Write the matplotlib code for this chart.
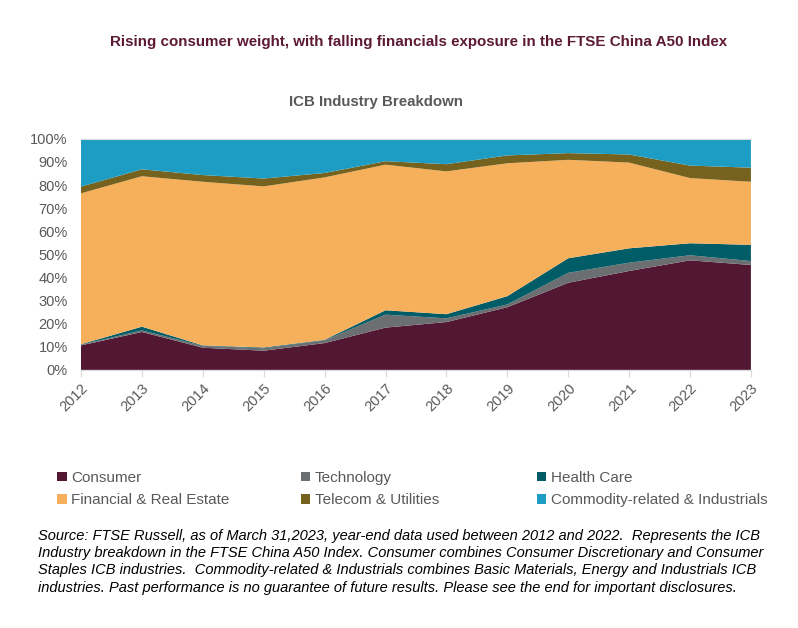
import numpy as np
import matplotlib
matplotlib.use("Agg")
from matplotlib import pyplot as plt
from matplotlib.patches import Patch

plt.rcParams["font.family"] = ["Liberation Sans", "DejaVu Sans"]

years = ["2012", "2013", "2014", "2015", "2016", "2017",
         "2018", "2019", "2020", "2021", "2022", "2023"]
consumer = [10.6, 16.4, 9.6, 8.3, 11.6, 18.3, 20.7, 27.1, 37.7, 42.8, 47.4, 45.4]
technology = [0.3, 0.7, 0.8, 1.1, 1.2, 5.6, 1.6, 1.2, 4.3, 3.6, 2.2, 1.7]
health_care = [0.2, 1.6, 0.2, 0.3, 0.2, 1.9, 1.8, 3.6, 6.3, 6.2, 5.2, 7.0]
financial = [65.3, 65.1, 70.8, 69.7, 70.3, 63.0, 61.8, 57.5, 42.6, 37.1, 28.2, 27.3]
telecom = [2.9, 3.0, 2.9, 3.4, 1.9, 1.5, 3.1, 3.4, 2.9, 3.5, 5.4, 6.1]
commodity = [20.7, 13.2, 15.7, 17.2, 14.8, 9.7, 11.0, 7.2, 6.2, 6.8, 11.6, 12.5]

labels = ["Consumer", "Technology", "Health Care",
          "Financial & Real Estate", "Telecom & Utilities",
          "Commodity-related & Industrials"]
colors = ["#521833", "#6c6f71", "#005c66", "#f6b05c", "#74621e", "#1e9dc4"]

GREY = "#595959"

fig = plt.figure(figsize=(7.98, 6.28), dpi=100)
ax = fig.add_axes([0.1015, 0.411, 0.8395, 0.368])

x = np.arange(len(years))
ax.stackplot(x, consumer, technology, health_care, financial, telecom,
             commodity, colors=colors, linewidth=0)

ax.set_xlim(0, len(years) - 1)
ax.set_ylim(0, 100)
ax.set_yticks(np.arange(0, 101, 10))
ax.set_yticklabels([f"{v}%" for v in range(0, 101, 10)])
ax.set_xticks(x)
ax.set_xticklabels(years, rotation=45, ha="right", rotation_mode="anchor")
ax.tick_params(axis="y", length=0, pad=9.5, labelsize=10.5, labelcolor=GREY)
ax.tick_params(axis="x", length=5, width=0.8, color="#d9d9d9", pad=3,
               labelsize=10.5, labelcolor=GREY)
for side in ["left", "right"]:
    ax.spines[side].set_visible(False)
ax.spines["bottom"].set_color("#d9d9d9")
ax.spines["top"].set_color("#d9d9d9")

fig.text(0.524, 0.933, "Rising consumer weight, with falling financials "
         "exposure in the FTSE China A50 Index", ha="center", va="center",
         fontsize=10.9, fontweight="bold", color="#5c1a35")
fig.text(0.471, 0.838, "ICB Industry Breakdown", ha="center", va="center",
         fontsize=10.8, fontweight="bold", color=GREY)

# legend: three columns of two entries each
handles = [Patch(facecolor=c, edgecolor="none") for c in colors]
col_x = [0.072, 0.377, 0.673]
for col in range(3):
    idx = [col, col + 3]
    fig.legend([handles[i] for i in idx], [labels[i] for i in idx],
               loc="upper left", bbox_to_anchor=(col_x[col], 0.25),
               frameon=False, fontsize=11, labelcolor=GREY,
               handlelength=0.6, handleheight=0.6, handletextpad=0.3,
               labelspacing=0.55, borderaxespad=0, borderpad=0)

source = ("Source: FTSE Russell, as of March 31,2023, year-end data used between 2012 and 2022.  Represents the ICB\n"
          "Industry breakdown in the FTSE China A50 Index. Consumer combines Consumer Discretionary and Consumer\n"
          "Staples ICB industries.  Commodity-related & Industrials combines Basic Materials, Energy and Industrials ICB\n"
          "industries. Past performance is no guarantee of future results. Please see the end for important disclosures.")
fig.text(0.047, 0.158, source, ha="left", va="top", fontsize=10.5,
         style="italic", color="black", linespacing=1.3)

fig.savefig("out.png", dpi=100, facecolor="white")
